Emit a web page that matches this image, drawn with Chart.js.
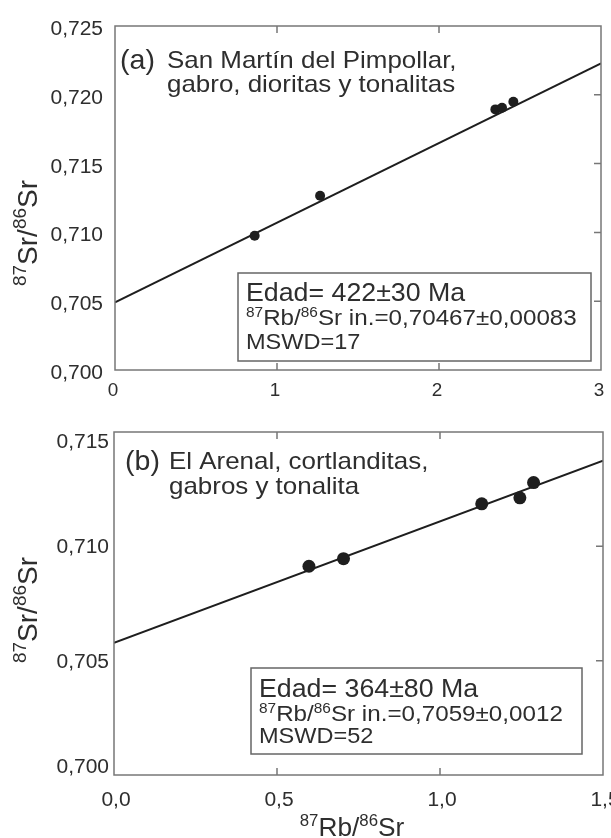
<!DOCTYPE html>
<html>
<head>
<meta charset="utf-8">
<script src="https://cdn.jsdelivr.net/npm/chart.js@4"></script>
<style>
body { margin: 0; background: #fff; }
canvas { display: block; }
</style>
</head>
<body>
<canvas id="chartA" width="611" height="415"></canvas>
<canvas id="chartB" width="611" height="423"></canvas>
<script>
// (a) San Martín del Pimpollar
var rbSrA = [0.862, 1.266, 2.348, 2.389, 2.459];
var srSrA = [0.70976, 0.71267, 0.71894, 0.71906, 0.7195];
var isoLineXA = [0, 3];
var isoLineYA = [0.70492, 0.72229];
var xTicksA = [0, 1, 2, 3];
var yTicksA = [0.700, 0.705, 0.710, 0.715, 0.720, 0.725];

// (b) El Arenal
var rbSrB = [0.598, 0.704, 1.128, 1.245, 1.287];
var srSrB = [0.70913, 0.70946, 0.71186, 0.71212, 0.71279];
var isoLineXB = [0, 1.5];
var isoLineYB = [0.70578, 0.71375];
var xTicksB = [0, 0.5, 1.0, 1.5];
var yTicksB = [0.700, 0.705, 0.710, 0.715];

var FONT = '"Liberation Sans", Arial, sans-serif';
var SX = 1.08;
var INK = '#2e2e2e';

function pts(xs, ys) {
  return xs.map(function (x, i) { return { x: x, y: ys[i] }; });
}

function comma(v, d) {
  return v.toFixed(d).replace('.', ',');
}

// parts: [text, size, dy]
function partsWidth(ctx, parts) {
  var w = 0;
  parts.forEach(function (p) {
    ctx.font = p[1] + 'px ' + FONT;
    w += ctx.measureText(p[0]).width;
  });
  return w;
}

function rich(ctx, parts, x, y, align, sx) {
  sx = sx || SX;
  var w = partsWidth(ctx, parts) * sx;
  if (align === 'center') x -= w / 2;
  if (align === 'right') x -= w;
  ctx.save();
  ctx.translate(x, y);
  ctx.scale(sx, 1);
  ctx.textAlign = 'left';
  ctx.textBaseline = 'alphabetic';
  var cx = 0;
  parts.forEach(function (p) {
    ctx.font = p[1] + 'px ' + FONT;
    ctx.fillText(p[0], cx, p[2] || 0);
    cx += ctx.measureText(p[0]).width;
  });
  ctx.restore();
}

var decor = {
  id: 'decor',
  afterDraw: function (chart, args, o) {
    var ctx = chart.ctx, a = chart.chartArea;
    var xs = chart.scales.x, ys = chart.scales.y;
    ctx.save();

    // frame and inward ticks
    ctx.strokeStyle = '#777';
    ctx.lineWidth = 1.5;
    ctx.strokeRect(a.left, a.top, a.right - a.left, a.bottom - a.top);
    ctx.beginPath();
    o.xTicks.forEach(function (v) {
      var px = xs.getPixelForValue(v);
      if (px <= a.left + 2 || px >= a.right - 2) return;
      ctx.moveTo(px, a.bottom); ctx.lineTo(px, a.bottom - 7);
      ctx.moveTo(px, a.top); ctx.lineTo(px, a.top + 7);
    });
    o.yTicks.forEach(function (v) {
      var py = ys.getPixelForValue(v);
      if (py <= a.top + 2 || py >= a.bottom - 2) return;
      ctx.moveTo(a.right, py); ctx.lineTo(a.right - 7, py);
    });
    ctx.stroke();

    // tick labels
    ctx.fillStyle = INK;
    o.yTicks.forEach(function (v) {
      var py = ys.getPixelForValue(v) + o.yDy;
      py = Math.min(Math.max(py, a.top + o.yClamp[0]), a.bottom - o.yClamp[1]);
      rich(ctx, [[comma(v, 3), 20]], a.left - o.yGap, py, 'right', 1.05);
    });
    o.xTicks.forEach(function (v) {
      var px = xs.getPixelForValue(v) + o.xDx;
      rich(ctx, [[comma(v, o.xDec), o.xSize]], px, o.xBase, 'center', 1.05);
    });

    // axis titles
    ctx.save();
    ctx.translate(o.yTitle[0], o.yTitle[1]);
    ctx.rotate(-Math.PI / 2);
    rich(ctx, [['87', 19, -11], ['Sr/', 28], ['86', 19, -11], ['Sr', 28]], 0, 0, 'center', 1);
    ctx.restore();
    if (o.xTitle) {
      rich(ctx, [['87', 16, -10], ['Rb/', 25], ['86', 16, -10], ['Sr', 25]], o.xTitle[0], o.xTitle[1], 'center', 1.05);
    }

    // panel title
    rich(ctx, [[o.tag, 28]], o.tagPos[0], o.tagPos[1], 'left', 1.02);
    o.title.forEach(function (line, i) {
      rich(ctx, [[line, 24]], o.titlePos[0], o.titlePos[1] + i * o.titleGap, 'left');
    });

    // result box
    ctx.strokeStyle = '#666';
    ctx.lineWidth = 1.5;
    ctx.strokeRect(o.box[0], o.box[1], o.box[2], o.box[3]);
    o.boxLines.forEach(function (l) {
      rich(ctx, l[0], o.box[0] + 8, l[1], 'left', l[2]);
    });

    ctx.restore();
  }
};

function makeChart(id, sp, ln, xr, yr, pad, deco) {
  return new Chart(document.getElementById(id), {
    type: 'scatter',
    data: {
      datasets: [{
        data: sp,
        pointRadius: deco.r,
        pointBackgroundColor: '#1e1e1e',
        pointBorderWidth: 0
      }, {
        type: 'line',
        data: ln,
        borderColor: '#1e1e1e',
        borderWidth: 2,
        pointRadius: 0,
        fill: false
      }]
    },
    options: {
      responsive: false,
      animation: false,
      layout: { padding: pad },
      plugins: {
        legend: { display: false },
        tooltip: { enabled: false },
        decor: deco
      },
      scales: {
        x: { type: 'linear', min: xr[0], max: xr[1], display: false },
        y: { type: 'linear', min: yr[0], max: yr[1], display: false }
      }
    },
    plugins: [decor]
  });
}

makeChart('chartA', pts(rbSrA, srSrA), pts(isoLineXA, isoLineYA), [0, 3], [0.700, 0.725],
  { left: 115, right: 10, top: 26, bottom: 45 },
  {
    r: 5,
    xTicks: xTicksA, yTicks: yTicksA,
    xDec: 0, xDx: -2, xBase: 396, xSize: 18,
    yDy: 9, yGap: 12, yClamp: [0, -20],
    yTitle: [37, 233],
    xTitle: null,
    tag: '(a)', tagPos: [120, 69],
    title: ['San Martín del Pimpollar,', 'gabro, dioritas y tonalitas'],
    titlePos: [167, 68], titleGap: 24,
    box: [238, 273, 353, 88],
    boxLines: [
      [[['Edad= 422±30 Ma', 25]], 301, 1.07],
      [[['87', 14, -8], ['Rb/', 22], ['86', 14, -8], ['Sr in.=0,70467±0,00083', 22]], 325, 1.1],
      [[['MSWD=17', 22]], 349, 1.07]
    ]
  });

makeChart('chartB', pts(rbSrB, srSrB), pts(isoLineXB, isoLineYB), [0, 1.5], [0.700, 0.715],
  { left: 114, right: 8, top: 17, bottom: 63 },
  {
    r: 6.5,
    xTicks: xTicksB, yTicks: yTicksB,
    xDec: 1, xDx: 2, xBase: 391, xSize: 20,
    yDy: 7, yGap: 5, yClamp: [16, 2],
    yTitle: [37, 195],
    xTitle: [352, 421],
    tag: '(b)', tagPos: [125, 55],
    title: ['El Arenal, cortlanditas,', 'gabros y tonalita'],
    titlePos: [169, 54], titleGap: 25,
    box: [251, 253, 331, 86],
    boxLines: [
      [[['Edad= 364±80 Ma', 25]], 282, 1.07],
      [[['87', 14, -8], ['Rb/', 22], ['86', 14, -8], ['Sr in.=0,7059±0,0012', 22]], 306, 1.1],
      [[['MSWD=52', 22]], 328, 1.07]
    ]
  });
</script>
</body>
</html>
